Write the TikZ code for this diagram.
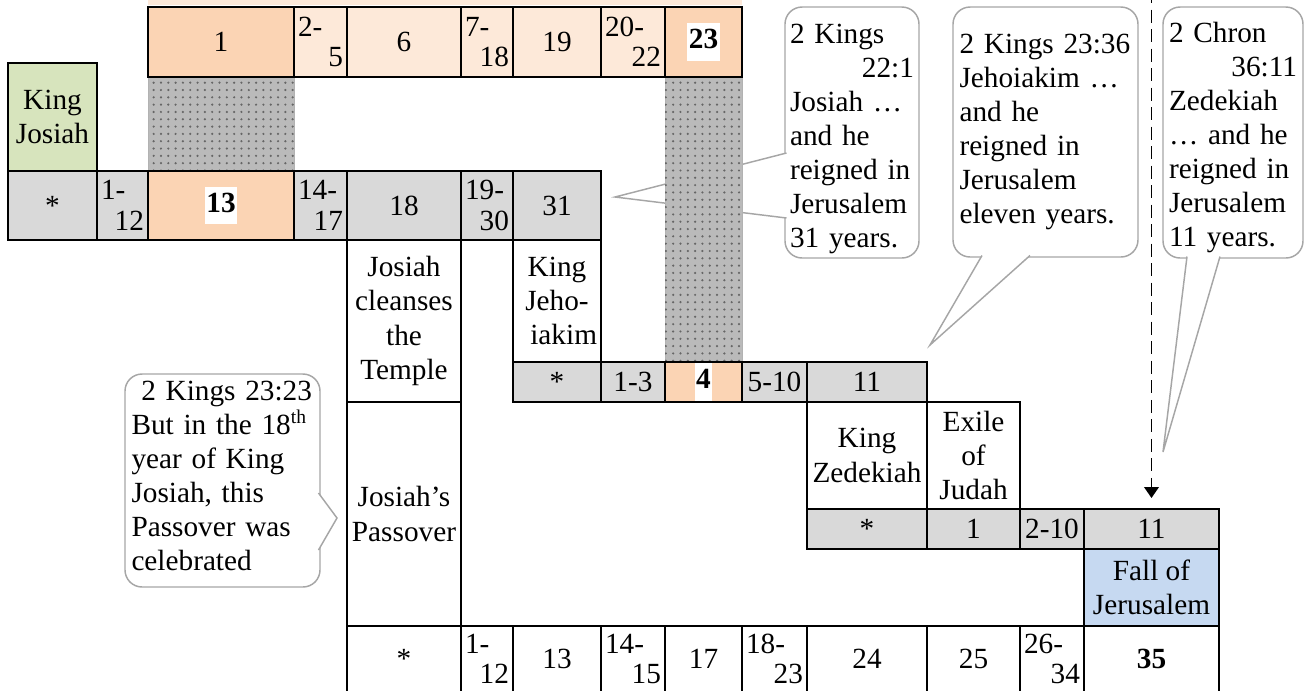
\documentclass[tikz,border=0pt]{standalone}
\usepackage{fontspec}
\setmainfont{Liberation Serif}
\usepackage{xcolor}
\usepackage{tikz}
\usetikzlibrary{positioning,calc,patterns,arrows.meta}

\definecolor{peach}{HTML}{FBD4B4}
\definecolor{peachlight}{HTML}{FDE9D9}
\definecolor{cellgray}{HTML}{D9D9D9}
\definecolor{kinggreen}{HTML}{D7E4BD}
\definecolor{fallblue}{HTML}{C6D9F1}
\definecolor{notegray}{HTML}{A6A6A6}

\newdimen\px
\px=0.41pt
\newcommand{\yrs}[3]{\parbox{#1\px}{#2\\[-1.5pt]\hspace*{\fill}#3}}
\newcommand{\hlyear}[1]{{\fboxsep=0.6pt\colorbox{white}{\strut\textbf{#1}}}}

\begin{document}
\begin{tikzpicture}[
    x=0.41pt, y=-0.41pt,
    font=\fontsize{12}{14}\selectfont,
    cell/.style={draw, line width=0.6pt, inner sep=0pt, outer sep=0pt, align=center, anchor=north west},
    wd/.style={minimum width=#1\px},
    ht/.style={minimum height=#1\px},
    toprow/.style={cell, line width=1.1pt, ht=70},
    yearrow/.style={cell, fill=cellgray, ht=#1},
    dotcol/.style={cell, draw=black!30, line width=0.4pt, fill=black!27, postaction={pattern=dots, pattern color=black!60}},
    note/.style={draw=notegray, line width=0.6pt, fill=white, rounded corners=7pt, align=left, inner ysep=0pt, outer sep=0pt, anchor=north west},
    notetail/.style={draw=notegray, fill=white, line width=0.6pt},
    dasharrow/.style={dash pattern=on 5.4pt off 2.6pt, line width=0.7pt, -{Triangle[width=6pt,length=4.5pt]}}
]
    \useasboundingbox (0,0) rectangle (1304,690);
    \clip (0,0) rectangle (1304,690);

    \node[note, text width=124\px, inner xsep=5\px, text height=36\px, text depth=215\px] (kings221) at (785,7) {2 Kings\\\hspace*{\fill}22:1\\Josiah …\\and he\\reigned in\\Jerusalem\\31 years.};
    \node[note, text width=172\px, inner xsep=6.5\px, text height=46\px, text depth=204\px] (kings2336) at (953,7) {2 Kings 23:36\\Jehoiakim …\\and he\\reigned in\\Jerusalem\\eleven years.};
    \node[note, text width=128\px, inner xsep=6\px, text height=35\px, text depth=216\px] (chron) at (1163,7) {2 Chron\\\hspace*{\fill}36:11\\Zedekiah\\\mbox{…\hspace{4pt}and he}\\reigned in\\Jerusalem\\11 years.};
    \node[note, text width=182\px, inner xsep=6.5\px, text height=26\px, text depth=187\px] (kings2323) at (125,374) {\ 2 Kings 23:23\\But in the 18\textsuperscript{th}\\year of King\\Josiah, this\\Passover was\\celebrated};

    \coordinate (tipA) at (615,197);
    \coordinate (tipB) at (930,345);
    \coordinate (tipC) at (1163,452);
    \coordinate (tipD) at (337,518);
    \path[notetail] ($(kings221.north west)+(1.5,146)$) -- (tipA) -- ($(kings221.north west)+(1.5,211)$);
    \path[notetail] ($(kings2336.south west)+(29,-1.5)$) -- (tipB) -- ($(kings2336.south west)+(77,-1.5)$);
    \path[notetail] ($(chron.south west)+(24,-1.5)$) -- (tipC) -- ($(chron.south west)+(57,-1.5)$);
    \path[notetail] ($(kings2323.north east)+(-1.5,119)$) -- (tipD) -- ($(kings2323.north east)+(-1.5,176)$);

    \node[dotcol, wd=146, ht=94] (shade1) at (148,77) {};
    \node[dotcol, wd=77, ht=285] (shade2) at (665,77) {};

    \fill[peachlight] (148,-5) rectangle (742,5);
    \node[toprow, fill=peach, wd=146, above=0pt of shade1] (t1) {1};
    \node[toprow, fill=peachlight, wd=53, right=0pt of t1] (t2) {\yrs{45}{2-}{5}};
    \node[toprow, fill=peachlight, wd=114, right=0pt of t2] (t3) {6};
    \node[toprow, fill=peachlight, wd=52, right=0pt of t3] (t4) {\yrs{44}{7-}{18}};
    \node[toprow, fill=peachlight, wd=88, right=0pt of t4] (t5) {19};
    \node[toprow, fill=peachlight, wd=64, right=0pt of t5] (t6) {\yrs{56}{20-}{22}};
    \node[toprow, fill=peach, wd=77, right=0pt of t6] (t7) {\hlyear{23}};

    \node[yearrow=69, wd=89] (j1) at (8,171) {*};
    \node[yearrow=69, wd=51, right=0pt of j1] (j2) {\yrs{43}{1-}{12}};
    \node[yearrow=69, wd=146, fill=peach, right=0pt of j2] (j3) {\hlyear{13}};
    \node[yearrow=69, wd=53, right=0pt of j3] (j4) {\yrs{45}{14-}{17}};
    \node[yearrow=69, wd=114, right=0pt of j4] (j5) {18};
    \node[yearrow=69, wd=52, right=0pt of j5] (j6) {\yrs{44}{19-}{30}};
    \node[yearrow=69, wd=88, right=0pt of j6] (j7) {31};

    \node[cell, fill=kinggreen, wd=89, ht=108, above=0pt of j1] (josiah) {King\\Josiah};
    \node[cell, wd=114, ht=162, below=0pt of j5] (temple) {Josiah\\cleanses\\the\\Temple};
    \node[cell, wd=114, ht=224, below=0pt of temple] (passover) {Josiah’s\\Passover};
    \node[cell, wd=88, ht=122, below=0pt of j7] (jehoiakim) {\parbox{80\px}{\centering King\\Jeho-\hspace*{\fill}\\\hspace*{\fill}iakim}};

    \node[yearrow=40, wd=88, below=0pt of jehoiakim] (k1) {*};
    \node[yearrow=40, wd=64, right=0pt of k1] (k2) {1-3};
    \node[yearrow=40, wd=77, fill=peach, right=0pt of k2] (k3) {\hlyear{4}};
    \node[yearrow=40, wd=65, right=0pt of k3] (k4) {5-10};
    \node[yearrow=40, wd=120, right=0pt of k4] (k5) {11};

    \node[cell, wd=120, ht=107, below=0pt of k5] (zedekiah) {King\\Zedekiah};
    \node[cell, wd=93, ht=107, right=0pt of zedekiah] (exile) {Exile\\of\\Judah};

    \node[yearrow=40, wd=120, below=0pt of zedekiah] (z1) {*};
    \node[yearrow=40, wd=93, right=0pt of z1] (z2) {1};
    \node[yearrow=40, wd=64, right=0pt of z2] (z3) {2-10};
    \node[yearrow=40, wd=135, right=0pt of z3] (z4) {11};
    \node[cell, fill=fallblue, wd=135, ht=77, below=0pt of z4] (fall) {Fall of\\Jerusalem};

    \node[cell, wd=114, ht=66, below=0pt of passover] (b1) {*};
    \node[cell, wd=52, ht=66, right=0pt of b1] (b2) {\yrs{44}{1-}{12}};
    \node[cell, wd=88, ht=66, right=0pt of b2] (b3) {13};
    \node[cell, wd=64, ht=66, right=0pt of b3] (b4) {\yrs{56}{14-}{15}};
    \node[cell, wd=77, ht=66, right=0pt of b4] (b5) {17};
    \node[cell, wd=65, ht=66, right=0pt of b5] (b6) {\yrs{57}{18-}{23}};
    \node[cell, wd=120, ht=66, right=0pt of b6] (b7) {24};
    \node[cell, wd=93, ht=66, right=0pt of b7] (b8) {25};
    \node[cell, wd=64, ht=66, right=0pt of b8] (b9) {\yrs{56}{26-}{34}};
    \node[cell, wd=135, ht=66, right=0pt of b9] (b10) {\textbf{35}};

    \coordinate (chrontop) at (1151.5,-10);
    \draw[dasharrow] (chrontop) -- ([yshift=11\px]z4.north);
\end{tikzpicture}
\end{document}
